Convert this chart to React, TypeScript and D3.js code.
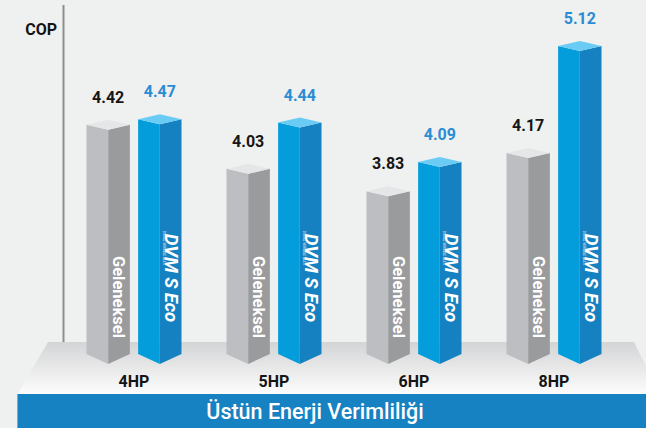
import React from "react";
import * as d3 from "d3";

const categories = ["4HP", "5HP", "6HP", "8HP"];
const seriesNames = ["Geleneksel", "DVM S Eco"];
const conventional = [4.42, 4.03, 3.83, 4.17];
const dvmEco = [4.47, 4.44, 4.09, 5.12];
const axisTitle = "COP";
const footerTitle = "Üstün Enerji Verimliliği";

const W = 646;
const H = 428;
const BOTTOM = 354;
const CAP = 5;
const VEE = 10;

const palettes = [
  { left: "#bdbec1", right: "#9a9b9d", top: "#e5e6e8", label: "#161616" },
  { left: "#049ddb", right: "#1581c1", top: "#6accf4", label: "#2a8dd3" },
];

// one pillar: two front faces, diamond cap, pointed foot
const Pillar = ({ x0, w, top, pal }) => {
  const xd = x0 + w / 2;
  const x1 = x0 + w;
  return (
    <g>
      <path
        d={`M${x0},${top}L${xd},${top + CAP}L${xd},${BOTTOM + VEE}L${x0},${BOTTOM}Z`}
        fill={pal.left}
      />
      <path
        d={`M${xd},${top + CAP}L${x1},${top}L${x1},${BOTTOM}L${xd},${BOTTOM + VEE}Z`}
        fill={pal.right}
      />
      <path
        d={`M${x0},${top}L${xd},${top - CAP}L${x1},${top}L${xd},${top + CAP}Z`}
        fill={pal.top}
      />
    </g>
  );
};

export default function App() {
  const x = d3.scaleBand().domain(categories).range([64, 624]).padding(0);
  const inner = d3.scaleBand().domain(seriesNames).range([-47.5, 47.5]).paddingInner(0.16);
  const y = d3.scaleLinear().domain([2.35, 5.12]).range([358, 46]);
  const series = [conventional, dvmEco];
  const font = "Roboto, 'DejaVu Sans', sans-serif";

  return (
    <svg
      width={W}
      height={H}
      style={{ position: "fixed", left: 0, top: 0, display: "block" }}
      fontFamily={font}
    >
      <defs>
        <linearGradient id="floor" x1="0" y1="0" x2="0" y2="1">
          <stop offset="0" stopColor="#d3d4d6" />
          <stop offset="0.75" stopColor="#f3f3f3" />
          <stop offset="1" stopColor="#fdfdfd" />
        </linearGradient>
      </defs>
      <rect width={W} height={H} fill="#eff0f0" />

      {/* axis line */}
      <line x1={63.5} x2={63.5} y1={5} y2={343} stroke="#8e8e8e" strokeWidth={2} />
      <text x={57} y={35} textAnchor="end" fontSize={16} fontWeight={700} fill="#141414">
        {axisTitle}
      </text>

      {/* platform */}
      <path d={`M48,342L634,342L660,395L17,395Z`} fill="url(#floor)" />

      {categories.map((c, i) => {
        const cx = x(c) + x.bandwidth() / 2;
        return (
          <g key={c}>
            {seriesNames.map((s, j) => {
              const v = series[j][i];
              const x0 = cx + inner(s);
              const w = inner.bandwidth();
              const top = y(v);
              return (
                <g key={s}>
                  <Pillar x0={x0} w={w} top={top} pal={palettes[j]} />
                  <text
                    x={x0 + w / 2}
                    y={top - 22}
                    textAnchor="middle"
                    fontSize={16}
                    fontWeight={700}
                    fill={palettes[j].label}
                  >
                    {v.toFixed(2)}
                  </text>
                </g>
              );
            })}
            <text
              transform={`translate(${cx - 21.5},297) rotate(90)`}
              textAnchor="middle"
              fontSize={16.5}
              fontWeight={700}
              fill="#ffffff"
            >
              {seriesNames[0]}
            </text>
            <text
              transform={`translate(${cx + 31},278) rotate(90)`}
              textAnchor="middle"
              fontSize={18.5}
              fontWeight={700}
              fontStyle="italic"
              fill="#ffffff"
            >
              {seriesNames[1]}
            </text>
            <text
              transform={`translate(${cx + 28.5},248) rotate(90)`}
              textAnchor="middle"
              fontSize={3}
              fill="#ffffff"
            >
              DIGITAL VARIABLE MULTI
            </text>
            <text x={cx} y={387} textAnchor="middle" fontSize={16} fontWeight={700} fill="#141414">
              {c}
            </text>
          </g>
        );
      })}

      {/* footer band */}
      <rect x={17} y={394} width={W - 17} height={H - 394} fill="#1782c2" />
      <line x1={17.5} x2={17.5} y1={394} y2={H} stroke="#6fb1dc" strokeWidth={1} />
      <text x={315} y={419} textAnchor="middle" fontSize={21.5} fontWeight={500} fill="#ffffff">
        {footerTitle}
      </text>
    </svg>
  );
}
